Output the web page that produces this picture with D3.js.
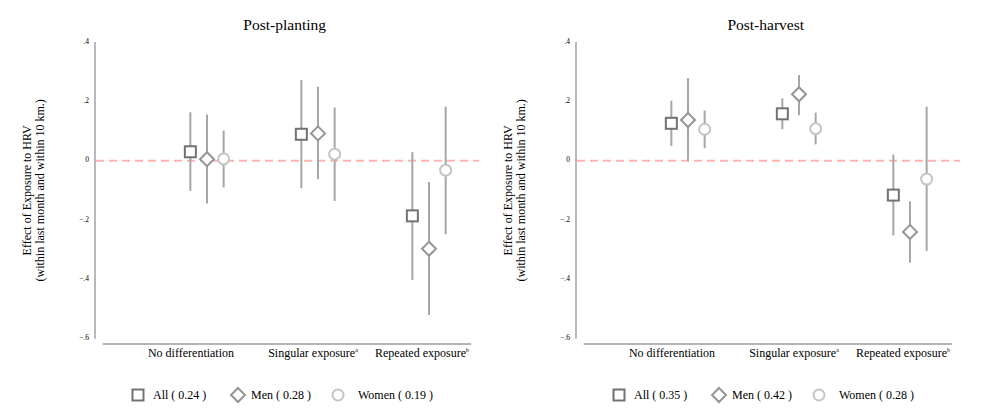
<!DOCTYPE html>
<html>
<head>
<meta charset="utf-8">
<script src="https://cdn.jsdelivr.net/npm/d3@7"></script>
<style>
  body { margin: 0; background: #fff; }
  svg text { font-family: "Liberation Serif", "DejaVu Serif", serif; }
</style>
</head>
<body>
<svg width="991" height="420"></svg>
<script>
// categories along the x axis, with their footnote marks
var categories = ["No differentiation", "Singular exposure", "Repeated exposure"];
var footnotes = ["", "a", "b"];
var series = ["All", "Men", "Women"];
var yTicks = [0.4, 0.2, 0, -0.2, -0.4, -0.6];

// each row: [estimate, lower, upper] per category
var plantingAll   = [[0.030, -0.102, 0.163], [0.089, -0.093, 0.272], [-0.186, -0.402, 0.029]];
var plantingMen   = [[0.005, -0.144, 0.156], [0.092, -0.063, 0.249], [-0.297, -0.520, -0.072]];
var plantingWomen = [[0.006, -0.090, 0.101], [0.022, -0.136, 0.179], [-0.032, -0.248, 0.182]];
var plantingShare = [0.24, 0.28, 0.19];

var harvestAll   = [[0.126, 0.050, 0.202], [0.158, 0.106, 0.210], [-0.116, -0.252, 0.021]];
var harvestMen   = [[0.137, -0.001, 0.278], [0.224, 0.153, 0.289], [-0.240, -0.344, -0.138]];
var harvestWomen = [[0.106, 0.042, 0.169], [0.108, 0.055, 0.162], [-0.062, -0.304, 0.182]];
var harvestShare = [0.35, 0.42, 0.28];

var panels = [
  {title: "Post-planting", left: 96, series: [plantingAll, plantingMen, plantingWomen], share: plantingShare},
  {title: "Post-harvest", left: 577, series: [harvestAll, harvestMen, harvestWomen], share: harvestShare}
];

var svg = d3.select("svg")
    .attr("font-family", "'Liberation Serif', 'DejaVu Serif', serif");

var markerColor = ["#727272", "#959595", "#c4c4c4"],
    ciColor = "#a6a6a6",
    offsets = [-0.15, 0, 0.15],
    labelDx = [-16, -5, -7],
    legendMarkX = [42, 142, 242],
    legendTextX = [57, 155, 262];

var y = d3.scaleLinear().domain([-0.6, 0.4]).range([338.7, 42]);
var fmt = v => v === 0 ? "0" : d3.format(".1f")(v).replace("0.", ".");

function marker(g, i, cx, cy, fill) {
  if (i == 0) {
    g.append("rect")
      .attr("x", cx - 5.5).attr("y", cy - 5.5)
      .attr("width", 11).attr("height", 11)
      .attr("fill", fill).attr("stroke", markerColor[0]).attr("stroke-width", 2);
  } else if (i == 1) {
    g.append("path")
      .attr("d", `M${cx},${cy - 7}L${cx + 7},${cy}L${cx},${cy + 7}L${cx - 7},${cy}Z`)
      .attr("fill", fill).attr("stroke", markerColor[1]).attr("stroke-width", 2);
  } else {
    g.append("circle")
      .attr("cx", cx).attr("cy", cy).attr("r", 5.5)
      .attr("fill", fill).attr("stroke", markerColor[2]).attr("stroke-width", 2);
  }
}

panels.forEach(function(p) {
  var x = d3.scaleLinear().domain([0, 1]).range([p.left, p.left + 111]);
  var g = svg.append("g");

  g.append("text")
    .attr("x", x(1.7)).attr("y", 30)
    .attr("text-anchor", "middle")
    .attr("font-size", 15.5)
    .text(p.title);

  // y axis
  g.append("line")
    .attr("x1", x(0) - 1).attr("x2", x(0) - 1)
    .attr("y1", y(0.4)).attr("y2", y(-0.6))
    .attr("stroke", "#8a8a8a").attr("stroke-width", 1.2);
  g.selectAll(".ytick")
    .data(yTicks)
    .enter().append("text")
    .attr("x", x(0) - 7).attr("y", d => y(d))
    .attr("text-anchor", "end")
    .attr("dominant-baseline", "middle")
    .attr("font-size", 7.5)
    .text(fmt);

  var yt = g.append("text")
    .attr("transform", `translate(${x(0) - 65},${y(-0.1)}) rotate(-90)`)
    .attr("text-anchor", "middle")
    .attr("font-size", 12);
  yt.append("tspan").attr("x", 0).attr("dy", 0).text("Effect of Exposure to HRV");
  yt.append("tspan").attr("x", 0).attr("dy", 12.5).text("(within last month and within 10 km.)");

  // x axis
  g.append("line")
    .attr("x1", x(0.06)).attr("x2", x(3.38))
    .attr("y1", 344).attr("y2", 344)
    .attr("stroke", "#b5b5b5").attr("stroke-width", 2);
  categories.forEach(function(c, k) {
    var t = g.append("text")
      .attr("x", x(k + 1) + labelDx[k]).attr("y", 357)
      .attr("text-anchor", "middle")
      .attr("font-size", 12);
    t.append("tspan").text(c);
    if (footnotes[k]) t.append("tspan").attr("font-size", 6).attr("dy", -5).text(footnotes[k]);
  });

  // zero reference line
  g.append("line")
    .attr("x1", x(0)).attr("x2", x(3.45))
    .attr("y1", y(0)).attr("y2", y(0))
    .attr("stroke", "#ffb4b4").attr("stroke-width", 2)
    .attr("stroke-dasharray", "8,5");

  // estimates with confidence intervals
  p.series.forEach(function(rows, i) {
    rows.forEach(function(d, k) {
      var cx = x(k + 1 + offsets[i]);
      g.append("line")
        .attr("x1", cx).attr("x2", cx)
        .attr("y1", y(d[1])).attr("y2", y(d[2]))
        .attr("stroke", ciColor).attr("stroke-width", 2);
      marker(g, i, cx, y(d[0]), "#fff");
    });
  });

  // legend
  series.forEach(function(s, i) {
    marker(g, i, x(0) + legendMarkX[i], 395, "#fff");
    g.append("text")
      .attr("x", x(0) + legendTextX[i]).attr("y", 399)
      .attr("font-size", 12)
      .text(`${s} ( ${p.share[i].toFixed(2)} )`);
  });
});
</script>
</body>
</html>
